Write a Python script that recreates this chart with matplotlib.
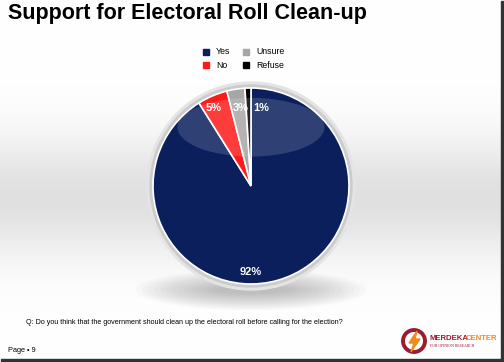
import numpy as np
import matplotlib
matplotlib.use("Agg")
import matplotlib.pyplot as plt
from matplotlib.patches import Ellipse, Rectangle, Circle, Polygon

labels = ["Yes", "No", "Unsure", "Refuse"]
values = [92, 5, 3, 1]
colors = ["#0a1f5c", "#ff1a1a", "#a6a6a6", "#000000"]
pct_text = ["92%", "5%", "3%", "1%"]

W, H = 504, 362
fig = plt.figure(figsize=(W / 100, H / 100), dpi=100)

# background with grey band
bg = fig.add_axes([0, 0, 1, 1])
bg.set_xlim(0, W); bg.set_ylim(H, 0); bg.axis("off")
yy = np.linspace(0, 1, 200)[:, None]
band = 1 - 0.12 * np.exp(-((yy - 0.55) / 0.17) ** 2)
img = np.dstack([band, band, band]) * np.ones((1, 10, 1))
bg.imshow(img, extent=[0, W - 3, H - 3, 0], aspect="auto", zorder=0)
# frame / shadow
bg.add_patch(Rectangle((W - 3, 1), 2, H - 2, color="#333333", zorder=1))
bg.add_patch(Rectangle((1, H - 3), W - 2, 2, color="#333333", zorder=1))
# pie shadow
for i in range(14):
    bg.add_patch(Ellipse((251, 290), 230 - i * 12, 40 - i * 2.5, color="#707070", alpha=0.035, lw=0, zorder=1))
# outer ring
bg.add_patch(Circle((251, 186), 104, color="#e4e4e4", zorder=1))
bg.add_patch(Circle((251, 186), 101, color="#cccccc", zorder=1))

bg.text(8, 14, "Support for Electoral Roll Clean-up", fontsize=15.5, fontweight="bold",
        family="Liberation Sans", va="center", ha="left")
bg.text(26, 322, "Q: Do you think that the government should clean up the electoral roll before calling for the election?",
        fontsize=5.1, family="Liberation Sans", va="center")
bg.text(8, 351, "Page \u2022 9", fontsize=5.3, family="Liberation Sans", va="center")

# logo
bg.add_patch(Circle((414, 341), 11, fill=False, ec="#9b1b30", lw=2.8, zorder=2))
bg.add_patch(Polygon([(417, 331), (409, 343), (414, 343), (411, 352), (420, 339), (415, 339)],
                     color="#f08a1c", zorder=2))
bg.text(429, 339, "MERDEKA", fontsize=5.6, fontweight="bold", color="#9b1b30",
        family="Liberation Sans", va="center")
bg.text(466, 339, "CENTER", fontsize=5.6, fontweight="bold", color="#f08a1c",
        family="Liberation Sans", va="center")
bg.text(430, 346, "FOR OPINION RESEARCH", fontsize=2.8, color="#9b1b30",
        family="Liberation Serif", va="center")

# pie
r = 98
ax = fig.add_axes([(251 - r) / W, 1 - (186 + r) / H, 2 * r / W, 2 * r / H])
wedges, _ = ax.pie(values, colors=colors, startangle=90, counterclock=False,
                   wedgeprops=dict(edgecolor="white", linewidth=1.2))
ax.set_aspect("equal")
ax.set_xlim(-1, 1); ax.set_ylim(-1, 1)
# glossy highlight
ax.add_patch(Ellipse((0, 0.6), 1.5, 0.6, color="white", alpha=0.15, lw=0))
# labels
pos = [(0, -0.88), (-0.38, 0.8), (-0.1, 0.8), (0.1, 0.8)]
for (x, y), t in zip(pos, pct_text):
    ax.text(x, y, t, color="white", fontsize=8, fontweight="bold", ha="center", va="center",
            family="Liberation Sans")

# legend
lx = [206, 246]
ly = [52, 65]
for i, lab in enumerate(labels):
    cx = lx[0 if i in (0, 1) else 1]
    cy = ly[0 if i in (0, 2) else 1]
    bg.add_patch(Rectangle((cx - 3, cy - 3), 6, 6, color=colors[i], zorder=3))
    bg.text(cx + 10, cy, lab, fontsize=6.3, family="Liberation Sans", va="center", zorder=3)

fig.savefig("out.png", dpi=100)
